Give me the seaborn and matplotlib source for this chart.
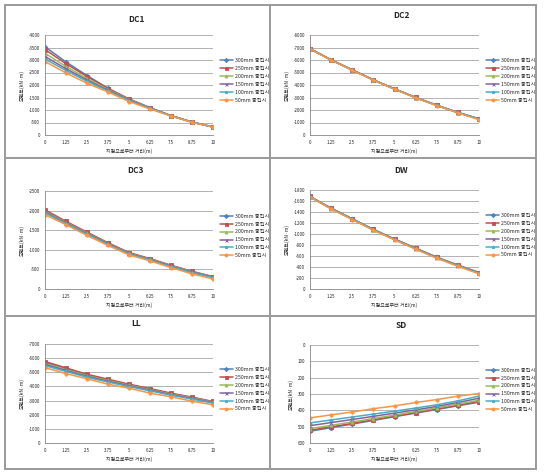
import matplotlib
matplotlib.use("Agg")
import matplotlib.pyplot as plt
from matplotlib.lines import Line2D
import seaborn as sns
import pandas as pd

# distance from support (m) and its tick labels
distance = [0, 1.25, 2.5, 3.75, 5, 6.25, 7.5, 8.75, 10]
x_tick_labels = ["0", "1.25", "2.5", "3.75", "5", "6.25", "7.5", "8.75", "10"]
series_names = ["300mm 충진시", "250mm 충진시", "200mm 충진시",
                "150mm 충진시", "100mm 충진시", "50mm 충진시"]

# moment values (kN·m), one row per fill depth, order as series_names
dc1 = [
    [-3530, -2920, -2380, -1870, -1440, -1090, -775, -520, -320],
    [-3420, -2850, -2340, -1860, -1440, -1090, -775, -520, -320],
    [-3270, -2740, -2260, -1820, -1420, -1080, -770, -515, -320],
    [-3140, -2650, -2200, -1790, -1400, -1075, -770, -515, -320],
    [-3040, -2580, -2150, -1760, -1380, -1065, -765, -515, -320],
    [-2940, -2480, -2070, -1720, -1340, -1040, -760, -510, -320],
]
dc2 = [
    [-6900, -6010, -5210, -4410, -3690, -3000, -2380, -1800, -1290],
    [-6910, -6015, -5215, -4415, -3695, -3005, -2385, -1805, -1295],
    [-6900, -6005, -5205, -4405, -3685, -2995, -2375, -1795, -1285],
    [-6895, -6000, -5200, -4400, -3680, -2990, -2370, -1790, -1280],
    [-6890, -5995, -5195, -4395, -3675, -2985, -2365, -1785, -1275],
    [-6880, -5985, -5185, -4385, -3660, -2970, -2350, -1770, -1220],
]
dc3 = [
    [-2000, -1710, -1440, -1170, -920, -765, -598, -445, -310],
    [-2020, -1725, -1450, -1180, -930, -775, -605, -450, -315],
    [-1980, -1695, -1425, -1160, -910, -760, -590, -438, -305],
    [-1960, -1680, -1410, -1150, -900, -750, -582, -430, -300],
    [-1940, -1665, -1395, -1135, -890, -740, -570, -418, -290],
    [-1895, -1640, -1365, -1110, -870, -717, -546, -385, -256],
]
dw = [
    [-1680, -1468, -1275, -1082, -907, -740, -577, -432, -298],
    [-1682, -1470, -1277, -1084, -908, -742, -578, -434, -300],
    [-1678, -1465, -1272, -1079, -904, -737, -573, -428, -294],
    [-1676, -1463, -1270, -1077, -902, -734, -570, -425, -290],
    [-1675, -1461, -1268, -1075, -900, -731, -567, -421, -286],
    [-1672, -1455, -1262, -1068, -893, -722, -558, -412, -276],
]
ll = [
    [-5700, -5260, -4815, -4470, -4125, -3820, -3495, -3215, -2915],
    [-5760, -5310, -4860, -4510, -4160, -3850, -3525, -3240, -2935],
    [-5620, -5190, -4760, -4420, -4085, -3780, -3460, -3185, -2890],
    [-5550, -5130, -4710, -4370, -4045, -3740, -3425, -3150, -2860],
    [-5470, -5060, -4650, -4310, -3990, -3690, -3380, -3105, -2820],
    [-5330, -4910, -4535, -4160, -3875, -3525, -3265, -2960, -2700],
]
sd = [
    [528, 506, 484, 462, 439, 417, 395, 372, 350],
    [522, 501, 480, 458, 436, 414, 392, 369, 346],
    [512, 492, 471, 450, 429, 407, 385, 362, 338],
    [494, 475, 456, 437, 417, 397, 376, 352, 326],
    [477, 459, 441, 423, 405, 386, 366, 342, 313],
    [446, 428, 410, 390, 373, 352, 334, 313, 297],
]

colors = ["#4F81BD", "#C0504D", "#9BBB59", "#8064A2", "#4BACC6", "#F79646"]
markers = ["D", "s", "^", "x", "*", "o"]

sns.set_style("white")
plt.rcParams["font.family"] = ["Noto Sans CJK KR", "DejaVu Sans"]
plt.rcParams["axes.unicode_minus"] = False

W, H = 544, 474
fig = plt.figure(figsize=(W / 100, H / 100), dpi=100)


def px_axes(x0, y0, x1, y1):
    return fig.add_axes([x0 / W, 1 - y1 / H, (x1 - x0) / W, (y1 - y0) / H])


def draw_panel(box, values, y_top, y_bottom, ystep, title, title_xy):
    ax = px_axes(*box)
    for name, vals, c, m in zip(series_names, values, colors, markers):
        df = pd.DataFrame({"dist": distance, "moment": vals})
        sns.lineplot(data=df, x="dist", y="moment", color=c, marker=m,
                     linewidth=1.1, markersize=2.4, markeredgewidth=0.6,
                     markeredgecolor=c, ax=ax)
    ax.set_xlim(0, 10)
    ax.set_ylim(y_bottom, y_top)
    lo, hi = min(y_top, y_bottom), max(y_top, y_bottom)
    ax.set_yticks(list(range(lo, hi + 1, ystep)))
    ax.set_xticks(distance)
    ax.set_xticklabels(x_tick_labels)
    ax.tick_params(labelsize=3.2, length=1.5, width=0.5, color="#868686",
                   pad=2, labelcolor="#222222")
    ax.yaxis.grid(True, color="#a6a6a6", linewidth=0.6)
    ax.xaxis.grid(False)
    for s in ["top", "right"]:
        ax.spines[s].set_visible(False)
    for s in ["left", "bottom"]:
        ax.spines[s].set_color("#868686")
        ax.spines[s].set_linewidth(0.6)
    ax.set_xlabel("지점으로부터 거리(m)", fontsize=3.6, labelpad=3)
    ax.set_ylabel("모멘트(kN·m)", fontsize=3.6, labelpad=3)
    ax.legend(ax.lines[:6], series_names, loc="upper left",
              bbox_to_anchor=(1.03, 0.79), frameon=False, fontsize=3.8,
              handlelength=2.4, labelspacing=0.55, handletextpad=0.4,
              borderaxespad=0, markerscale=0.9)
    fig.text(title_xy[0] / W, 1 - title_xy[1] / H, title, fontsize=6,
             fontweight="bold", ha="center", va="center")
    return ax


draw_panel((45, 35, 213, 135), dc1, -4000, 0, 500, "DC1", (136, 19))
draw_panel((310, 35, 479, 135), dc2, -8000, 0, 1000, "DC2", (401, 16))
draw_panel((45, 191, 213, 289), dc3, -2500, 0, 500, "DC3", (136, 171))
draw_panel((310, 190, 479, 289), dw, -1800, 0, 200, "DW", (401, 171))
draw_panel((45, 344, 213, 443), ll, -7000, 0, 1000, "LL", (136, 324))
draw_panel((310, 345, 479, 443), sd, 0, 600, 100, "SD", (401, 325))

# table-like frame around the six charts
frame = "#9a9a9a"
segments = [
    ((5, 5), (5, 469)), ((536, 536), (5, 469)), ((270, 270), (5, 469)),
    ((5, 536), (5, 5)), ((5, 536), (469, 469)),
    ((5, 536), (158, 158)), ((5, 536), (316, 316)),
]
for xx, yy in segments:
    fig.add_artist(Line2D([v / W for v in xx], [1 - v / H for v in yy],
                          color=frame, linewidth=1.4))

fig.savefig("out.png", dpi=100)
